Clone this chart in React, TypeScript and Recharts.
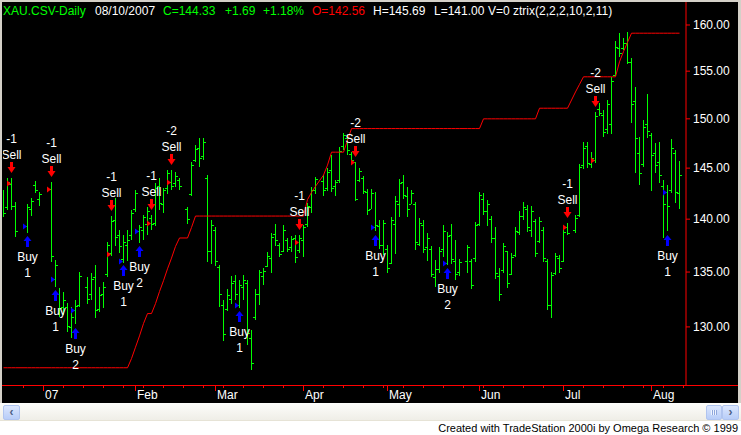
import React from 'react';
import { ComposedChart, Bar, Line, Scatter, XAxis, YAxis } from 'recharts';

// XAU daily bars, Dec 18 2006 .. Aug 10 2007, one slot per weekday (null = holiday)
const opens = [
  141.9, 141.2, 143.4, 141.3, null, null, 139.3, 141.0, 143.3, 142.0,
  null, null, 142.9, 134.4, 133.0, 131.8, 131.8, 130.0, 131.5, 132.0,
  null, 133.6, 133.0, 134.5, 131.6, 133.0, 134.8, 136.8, 139.9, 138.5,
  136.2, 137.5, 138.5, 141.0, 138.9, 139.0, 139.5, 140.1, 139.6, 143.2,
  141.5, 143.0, 143.6, 143.5, 143.8, null, 141.0, 142.4, 145.8, 147.0,
  146.2, 144.0, 137.0, 139.0, 135.5, 132.0, 131.6, 132.5, 134.2, 132.0,
  133.6, 134.0, 129.0, 130.9, 133.0, 134.6, 135.6, 136.3, 138.6, 137.5,
  137.0, 138.0, 137.3, 138.2, 137.1, 138.0, 139.5, 141.2, 142.8, null,
  143.7, 143.0, 144.8, 143.2, 143.8, 147.2, 148.0, 146.4, 145.6, 143.8,
  144.0, 142.6, 141.0, 139.2, 139.3, 137.5, 137.2, 135.8, 139.5, 141.5,
  143.6, 142.2, 141.5, 141.5, 137.6, 139.4, 137.3, 137.2, 134.5, 135.3,
  137.2, 135.8, 138.5, 136.0, 135.0, null, 136.0, 136.0, 136.3, 139.5,
  142.0, 140.8, 140.0, 138.2, 134.6, 135.2, 137.0, 134.8, 136.6, 138.8,
  140.3, 141.0, 139.0, 139.8, 137.9, 139.0, 136.0, 132.0, 134.9, 136.3,
  136.0, 139.2, null, 139.0, 140.4, 145.3, 147.2, 145.4, 145.8, 151.0,
  150.4, 149.0, 149.5, 154.6, 157.5, 157.5, 158.0, 156.0, 151.8, 146.5,
  145.4, 149.5, 148.3, 146.5, 145.6, 143.2, 142.65, 142.8, 146.5, 142.56,
];

const highs = [
  142.8, 144.0, 144.0, 141.7, null, null, 141.5, 142.1, 143.7, 142.6,
  null, null, 143.6, 136.1, 133.5, 133.2, 132.2, 131.8, 132.4, 135.0,
  null, 134.5, 134.9, 135.7, 133.6, 134.1, 137.8, 140.3, 142.1, 139.0,
  138.5, 139.0, 140.9, 142.8, 139.4, 140.4, 141.2, 140.4, 143.5, 144.0,
  143.0, 144.8, 144.8, 144.6, 144.0, null, 141.2, 145.6, 147.3, 148.0,
  148.0, 144.3, 139.9, 139.2, 135.7, 132.4, 133.4, 134.6, 134.7, 134.3,
  134.7, 134.3, 129.7, 133.4, 135.2, 135.4, 136.9, 138.7, 139.5, 137.7,
  139.4, 138.2, 138.4, 138.5, 138.5, 139.4, 141.6, 143.1, 144.1, null,
  144.3, 145.0, 146.3, 143.8, 147.1, 148.5, 148.3, 146.6, 145.6, 145.0,
  144.2, 142.9, 142.9, 142.6, 139.9, 139.9, 137.5, 140.2, 142.2, 143.9,
  144.3, 143.1, 142.8, 141.7, 140.1, 139.9, 138.7, 137.4, 136.1, 137.3,
  139.4, 138.8, 139.5, 138.0, 136.2, null, 137.5, 136.2, 139.7, 142.6,
  142.5, 141.9, 140.3, 139.2, 135.4, 137.7, 137.0, 136.8, 139.2, 140.8,
  141.7, 141.4, 141.3, 140.0, 140.2, 139.2, 136.2, 135.0, 136.8, 136.6,
  139.2, 139.6, null, 140.4, 145.4, 147.6, 147.6, 146.6, 150.7, 151.6,
  150.9, 152.0, 154.4, 158.2, 159.1, 158.6, 159.2, 156.4, 153.3, 148.1,
  149.9, 152.6, 148.5, 147.5, 147.6, 143.8, 143.3, 147.9, 146.8, 145.69,
];

const lows = [
  140.2, 140.9, 140.9, 138.3, null, null, 138.7, 140.4, 142.5, 141.2,
  null, null, 135.9, 133.6, 130.9, 131.1, 129.6, 129.0, 130.2, 131.8,
  null, 132.0, 132.4, 130.8, 131.3, 131.7, 134.5, 136.5, 137.5, 136.8,
  135.9, 136.1, 138.0, 140.7, 137.7, 138.0, 138.5, 139.0, 139.3, 140.9,
  140.6, 142.4, 142.8, 143.1, 142.8, null, 139.6, 142.2, 145.6, 145.1,
  145.8, 135.9, 135.7, 135.5, 131.8, 128.7, 131.4, 132.0, 132.4, 131.7,
  132.4, 128.4, 126.2, 130.6, 132.0, 133.8, 135.5, 134.9, 137.4, 136.4,
  136.8, 136.9, 136.9, 135.9, 136.8, 136.4, 139.3, 140.6, 142.4, null,
  142.2, 142.7, 142.6, 142.2, 143.5, 146.8, 146.3, 145.5, 141.7, 143.6,
  142.4, 140.4, 140.9, 138.8, 137.1, 136.6, 134.9, 135.7, 136.6, 140.2,
  141.9, 140.2, 141.4, 137.1, 137.4, 136.8, 136.1, 134.5, 133.6, 134.9,
  136.4, 135.7, 135.7, 134.3, 134.6, null, 134.9, 133.4, 135.9, 139.3,
  140.4, 139.4, 137.7, 134.3, 132.4, 134.9, 133.6, 134.7, 136.4, 138.5,
  140.0, 138.8, 138.3, 136.4, 137.7, 135.9, 131.5, 130.8, 134.7, 134.9,
  135.9, 138.5, null, 138.7, 140.2, 144.9, 145.0, 145.0, 145.5, 150.3,
  148.1, 148.5, 148.5, 154.4, 156.5, 157.3, 155.7, 149.6, 144.5, 143.3,
  145.1, 148.1, 142.7, 144.5, 143.5, 138.2, 138.8, 142.5, 141.5, 141.0,
];

const closes = [
  140.6, 143.6, 141.3, 138.9, null, null, 141.2, 141.8, 142.8, 142.4,
  null, null, 136.5, 135.7, 131.7, 132.4, 130.1, 130.9, 131.9, 134.6,
  null, 132.5, 134.4, 131.5, 132.9, 133.6, 137.5, 139.8, 138.3, 137.4,
  137.8, 138.0, 140.6, 142.5, 139.2, 140.2, 140.8, 139.5, 143.0, 141.6,
  142.8, 144.5, 143.2, 144.2, 143.2, null, 140.0, 145.3, 146.9, 146.0,
  147.6, 137.0, 139.4, 136.0, 133.0, 129.4, 132.9, 134.0, 133.0, 133.8,
  134.3, 129.5, 126.8, 133.0, 135.0, 135.1, 136.5, 138.3, 138.0, 136.7,
  139.0, 137.2, 138.1, 136.4, 138.2, 139.2, 141.3, 142.8, 143.9, null,
  142.8, 144.6, 143.0, 143.6, 146.7, 148.3, 146.8, 145.8, 142.0, 144.7,
  142.7, 140.9, 142.5, 139.4, 137.5, 139.6, 135.4, 139.9, 141.8, 143.5,
  142.3, 141.0, 142.5, 137.8, 139.6, 137.2, 138.2, 134.8, 135.3, 137.0,
  138.9, 138.4, 136.2, 134.8, 135.9, null, 137.3, 133.8, 139.4, 142.3,
  140.8, 141.5, 138.2, 134.9, 133.0, 137.4, 134.0, 136.4, 138.9, 140.3,
  141.2, 139.2, 140.8, 136.8, 139.8, 136.3, 132.0, 134.7, 136.5, 135.4,
  138.8, 138.7, null, 140.1, 145.1, 147.0, 145.5, 146.0, 150.3, 150.6,
  148.6, 151.5, 154.0, 157.6, 157.0, 158.0, 156.0, 151.5, 148.0, 144.5,
  149.2, 148.8, 146.3, 145.3, 144.3, 141.5, 141.3, 147.0, 142.64, 144.33,
];

// ztrix trailing line
const stops = [
  126.4, 126.4, 126.4, 126.4, null, null, 126.4, 126.4, 126.4, 126.4,
  null, null, 126.4, 126.4, 126.4, 126.4, 126.4, 126.4, 126.4, 126.4,
  null, 126.4, 126.4, 126.4, 126.4, 126.4, 126.4, 126.4, 126.4, 126.4,
  126.4, 126.4, 127.2, 128.2, 129.2, 130.3, 131.2, 131.2, 132.1, 133.2,
  134.2, 135.3, 136.3, 137.4, 138.2, null, 138.2, 139.2, 140.3, 140.3,
  140.3, 140.3, 140.3, 140.3, 140.3, 140.3, 140.3, 140.3, 140.3, 140.3,
  140.3, 140.3, 140.3, 140.3, 140.3, 140.3, 140.3, 140.3, 140.3, 140.3,
  140.3, 140.3, 140.3, 140.3, 140.3, 140.3, 141.9, 142.6, 143.2, null,
  144.3, 145.3, 146.6, 146.6, 146.6, 146.6, 147.8, 149.0, 149.0, 149.0,
  149.0, 149.0, 149.0, 149.0, 149.0, 149.0, 149.0, 149.0, 149.0, 149.0,
  149.0, 149.0, 149.0, 149.0, 149.0, 149.0, 149.0, 149.0, 149.0, 149.0,
  149.0, 149.0, 149.0, 149.0, 149.0, null, 149.0, 149.0, 149.0, 149.0,
  150.0, 150.0, 150.0, 150.0, 150.0, 150.0, 150.0, 150.0, 150.0, 150.0,
  150.0, 150.0, 150.0, 150.0, 151.1, 151.1, 151.1, 151.1, 151.1, 151.1,
  151.1, 151.1, null, 152.8, 153.6, 154.4, 154.4, 154.4, 154.4, 154.4,
  154.4, 154.4, 154.4, 154.4, 156.0, 157.1, 158.1, 159.1, 159.1, 159.1,
  159.1, 159.1, 159.1, 159.1, 159.1, 159.1, 159.1, 159.1, 159.1, 159.1,
];

const monthStarts = [10, 33, 53, 75, 96, 119, 140, 162];
const monthLabels = ['07', 'Feb', 'Mar', 'Apr', 'May', 'Jun', 'Jul', 'Aug'];
const priceTicks = [130, 135, 140, 145, 150, 155, 160];

const sellBars = [2, 12, 27, 37, 42, 74, 88, 141, 148];
const sellSizes = [-1, -1, -1, -1, -2, -1, -2, -1, -2];
const sellPrices = [143.5, 142.9, 136.7, 139.6, 143.6, 137.8, 145.6, 139.2, 145.8];

const buyBars = [6, 13, 18, 30, 34, 59, 93, 111, 166];
const buySizes = [1, 1, 2, 1, 2, 1, 1, 2, 1];
const buyPrices = [139.3, 134.4, 131.5, 136.0, 138.9, 132.0, 139.2, 135.8, 142.65];

const GREEN = '#00ff00';
const RED = '#ff0000';
const BLUE = '#0000ff';
const FONT = '"Liberation Sans", Arial, sans-serif';

const rows = [];
highs.forEach((h, i) => {
  if (h == null) return;
  rows.push({ i, o: opens[i], h, l: lows[i], c: closes[i], range: [lows[i], h], stop: stops[i] });
});

const sellRows = sellBars.map((i, k) => ({ i, v: highs[i], n: sellSizes[k] }));
const buyRows = buyBars.map((i, k) => ({ i, v: lows[i], n: buySizes[k] }));
const entryRows = [
  ...sellBars.map((i, k) => ({ i, v: sellPrices[k], side: 'sell' })),
  ...buyBars.map((i, k) => ({ i, v: buyPrices[k], side: 'buy' })),
];

function OhlcBar(props: any) {
  const { x, y, width, height, payload } = props;
  if (!payload || y == null) return null;
  const top = Math.min(y, y + height);
  const bot = Math.max(y, y + height);
  const c = Math.floor(x + width / 2);
  const span = Math.log(payload.h) - Math.log(payload.l);
  const at = (v: number) => (span > 0 ? top + (bot - top) * (Math.log(payload.h) - Math.log(v)) / span : top);
  const yo = Math.round(at(payload.o));
  const yc = Math.round(at(payload.c));
  return (
    <g>
      <rect x={c} y={Math.round(top)} width={1} height={Math.max(1, Math.round(bot - top))} fill={GREEN} />
      <rect x={c - 2} y={Math.min(yo, Math.round(bot) - 1)} width={2} height={1} fill={GREEN} />
      <rect x={c + 1} y={Math.min(yc, Math.round(bot) - 1)} width={2} height={1} fill={GREEN} />
    </g>
  );
}

function SellMark(props: any) {
  const { cx, cy, payload } = props;
  if (cx == null || cy == null) return null;
  const c = Math.floor(cx);
  const top = Math.round(cy) - 16;
  return (
    <g>
      <rect x={c - 1} y={top} width={3} height={6} fill={RED} />
      <polygon points={`${c - 3.5},${top + 5} ${c + 4.5},${top + 5} ${c + 0.5},${top + 11}`} fill={RED} />
      <text x={c + 0.5} y={cy - 19} textAnchor="middle" fill="#fff" fontSize={12} fontFamily={FONT}>Sell</text>
      <text x={c + 0.5} y={cy - 35} textAnchor="middle" fill="#fff" fontSize={12} fontFamily={FONT}>{payload.n}</text>
    </g>
  );
}

function BuyMark(props: any) {
  const { cx, cy, payload } = props;
  if (cx == null || cy == null) return null;
  const c = Math.floor(cx);
  const tip = Math.round(cy) + 3;
  return (
    <g>
      <polygon points={`${c - 3.5},${tip + 5} ${c + 4.5},${tip + 5} ${c + 0.5},${tip}`} fill={BLUE} />
      <rect x={c - 1} y={tip + 5} width={3} height={6} fill={BLUE} />
      <text x={c + 0.5} y={cy + 28} textAnchor="middle" fill="#fff" fontSize={12} fontFamily={FONT}>Buy</text>
      <text x={c + 0.5} y={cy + 44} textAnchor="middle" fill="#fff" fontSize={12} fontFamily={FONT}>{payload.n}</text>
    </g>
  );
}

function EntryMark(props: any) {
  const { cx, cy, payload } = props;
  if (cx == null || cy == null) return null;
  const c = Math.floor(cx);
  const yy = Math.round(cy) + 0.5;
  return (
    <polygon
      points={`${c - 4},${yy - 3} ${c - 4},${yy + 3} ${c},${yy}`}
      fill={payload.side === 'sell' ? RED : BLUE}
    />
  );
}

function DateTick(props: any) {
  const { x, y, payload } = props;
  const k = monthStarts.indexOf(payload.value);
  const c = Math.floor(x);
  return (
    <g>
      <rect x={c} y={y} width={1} height={k >= 0 ? 6 : 3} fill={RED} />
      {k >= 0 && (
        <text x={c + 2} y={y + 14} fill="#fff" fontSize={12} fontFamily={FONT}>
          {monthLabels[k]}
        </text>
      )}
    </g>
  );
}

const dateTicks = Array.from(
  new Set([5, 10, 15, 20, 25, 30, 35, 40, 45, 50, 55, 60, 65, 70, 75, 80, 85, 90, 95, 100, 105, 110, 115, 120, 125, 130, 135, 140, 145, 150, 155, 160, 165, 170, ...monthStarts])
).sort((a, b) => a - b);

const header = [
  { text: 'XAU.CSV-Daily', left: 3, color: GREEN },
  { text: '08/10/2007', left: 95, color: '#fff' },
  { text: 'C=144.33', left: 163, color: GREEN },
  { text: '+1.69', left: 225, color: GREEN },
  { text: '+1.18%', left: 263, color: GREEN },
  { text: 'O=142.56', left: 312, color: RED },
  { text: 'H=145.69', left: 373, color: '#fff' },
  { text: 'L=141.00', left: 434, color: '#fff' },
  { text: 'V=0', left: 488, color: '#fff' },
  { text: 'ztrix(2,2,2,10,2,11)', left: 513, color: '#fff' },
];

export default function App() {
  return (
    <div style={{ position: 'absolute', left: 0, top: 0, width: 741, height: 435, background: '#fff', fontFamily: FONT, overflow: 'hidden' }}>
      <div style={{ position: 'absolute', left: 0, top: 0, width: 741, height: 403, background: '#d4d0c8' }} />
      <div style={{ position: 'absolute', left: 2, top: 2, width: 736, height: 401, background: '#000' }} />
      <div style={{ position: 'absolute', left: 2, top: 385, width: 736, height: 1, background: RED }} />
      <div style={{ position: 'absolute', left: 0, top: 0 }}>
        <ComposedChart width={741} height={402} data={rows} margin={{ top: 2, right: 0, bottom: 0, left: 3 }}>
          <XAxis
            type="number"
            dataKey="i"
            domain={[-0.125, 170.625]}
            allowDataOverflow
            ticks={dateTicks}
            interval={0}
            height={17}
            tickSize={0}
            tickMargin={0}
            axisLine={false}
            tickLine={false}
            tick={<DateTick />}
          />
          <YAxis
            type="number"
            scale="log"
            orientation="right"
            domain={[124.91, 162.55]}
            allowDataOverflow
            width={55}
            ticks={priceTicks}
            interval={0}
            tickFormatter={(v: number) => v.toFixed(2)}
            tick={{ fill: '#fff', fontSize: 12, fontFamily: FONT }}
            tickSize={4}
            tickMargin={3}
            tickLine={{ stroke: RED }}
            axisLine={{ stroke: RED }}
          />
          <Bar dataKey="range" barSize={2} shape={<OhlcBar />} isAnimationActive={false} />
          <Line dataKey="stop" type="linear" stroke={RED} strokeWidth={1} dot={false} activeDot={false} connectNulls isAnimationActive={false} />
          <Scatter data={entryRows} dataKey="v" shape={<EntryMark />} isAnimationActive={false} />
          <Scatter data={sellRows} dataKey="v" shape={<SellMark />} isAnimationActive={false} />
          <Scatter data={buyRows} dataKey="v" shape={<BuyMark />} isAnimationActive={false} />
        </ComposedChart>
      </div>
      {header.map((h) => (
        <span key={h.text} style={{ position: 'absolute', left: h.left, top: 4, fontSize: 12, lineHeight: '14px', color: h.color, whiteSpace: 'nowrap' }}>
          {h.text}
        </span>
      ))}
      {/* scrollbar */}
      <div style={{ position: 'absolute', left: 0, top: 403, width: 741, height: 17, background: 'linear-gradient(#fdfdfb, #efeee7)', borderBottom: '1px solid #e6e3d6' }} />
      <div style={{ position: 'absolute', left: 3, top: 405, width: 15, height: 13, borderRadius: 2, background: 'linear-gradient(#dbe6fd, #b8cdf8)', border: '1px solid #b0c4ef', color: '#4d6185', fontSize: 12, fontWeight: 'bold', lineHeight: '13px', textAlign: 'center' }}>‹</div>
      <div style={{ position: 'absolute', left: 706, top: 405, width: 14, height: 13, borderRadius: 2, background: 'linear-gradient(#dbe6fd, #b8cdf8)', border: '1px solid #b0c4ef' }}>
        <div style={{ position: 'absolute', left: 4, top: 4, width: 6, height: 5, background: 'repeating-linear-gradient(90deg, #eef3fe 0px, #eef3fe 1px, #8ea6dc 1px, #8ea6dc 2px)' }} />
      </div>
      <div style={{ position: 'absolute', left: 722, top: 405, width: 15, height: 13, borderRadius: 2, background: 'linear-gradient(#dbe6fd, #b8cdf8)', border: '1px solid #b0c4ef', color: '#4d6185', fontSize: 12, fontWeight: 'bold', lineHeight: '13px', textAlign: 'center' }}>›</div>
      <div style={{ position: 'absolute', right: 3, top: 422, fontSize: 11, lineHeight: '13px', color: '#000', whiteSpace: 'nowrap' }}>
        Created with TradeStation 2000i by Omega Research © 1999
      </div>
    </div>
  );
}
